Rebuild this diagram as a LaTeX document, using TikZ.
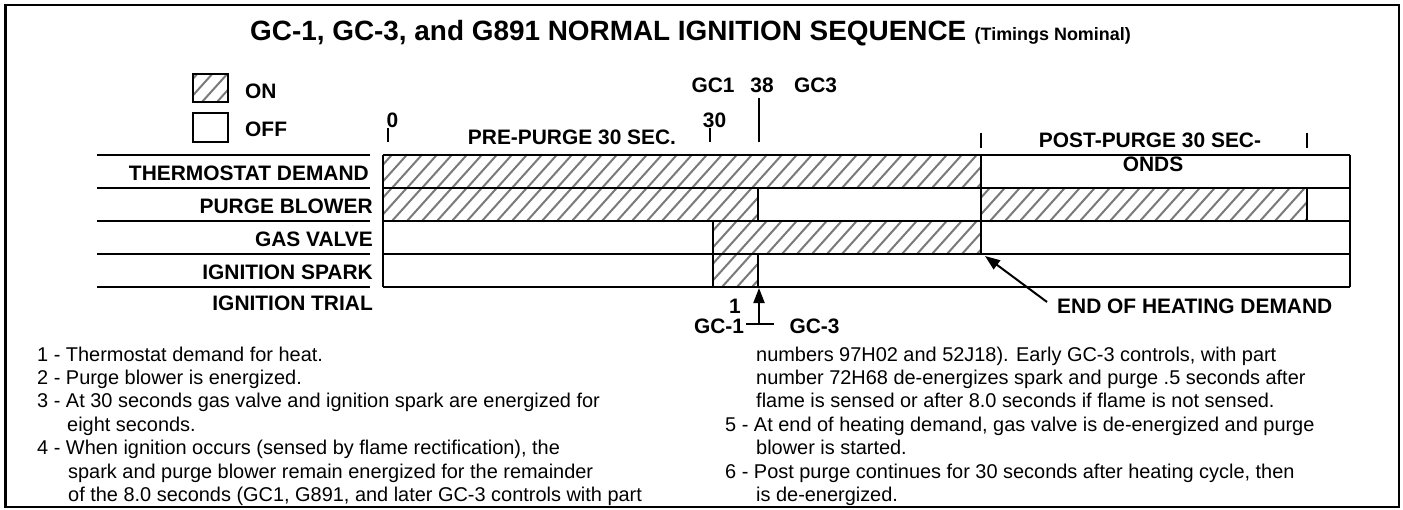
\documentclass[tikz,border=0pt]{standalone}
\usepackage{fontspec}
\setmainfont{Liberation Sans}
\usetikzlibrary{arrows.meta}
\newcommand\hatchrect[4]{%
  \begin{scope}
    \clip (#1,#2) rectangle (#3,#4);
    \pgfmathtruncatemacro\hn{(#3-#1)/15+4}%
    \foreach \k in {0,...,\hn}{\draw[hatchline] ({#1-36+15*\k},{#4}) -- ++(36,-40);}
  \end{scope}}
\begin{document}
\begin{tikzpicture}[x=1bp,y=-1bp,
  lbl/.style={font=\fontsize{21}{25}\selectfont\bfseries, inner sep=0pt},
  rowlbl/.style={lbl, anchor=base east},
  note/.style={font=\fontsize{20}{23.4}\selectfont, inner sep=0pt, anchor=base west},
  hatchline/.style={draw=black!52, line width=2bp},
  gridline/.style={line width=1.4bp},
  tickline/.style={line width=1.1bp},
  arrowline/.style={line width=2bp, -{Triangle[length=15bp,width=11bp]}}]
\useasboundingbox (0,0) rectangle (1403,510);
% frame
\draw[line width=1.3bp] (5,5) rectangle (1399,507);
\draw[line width=3bp] (5,5) -- (5,507);
% title
\node[anchor=base west, inner sep=0pt, font=\fontsize{28}{32}\selectfont\bfseries] (title) at (250,41) {GC-1, GC-3, and G891 NORMAL IGNITION SEQUENCE};
\node[anchor=base west, inner sep=0pt, font=\fontsize{18}{22}\selectfont\bfseries] (titlenote) at ([xshift=8bp]title.base east) {(Timings Nominal)};
% legend
\hatchrect{193}{74}{228}{102}
\draw[gridline] (193,74) rectangle (228,102);
\draw[gridline] (193,113) rectangle (228,142);
\node[lbl, anchor=base west] (on) at (245,98.5) {ON};
\node[lbl, anchor=base west] (off) at (245,136.5) {OFF};
% row labels
\foreach \yy in {155,188,221,254,287} {\draw[line width=1.3bp] (97,\yy) -- (370,\yy);}
\node[rowlbl] (lthermo) at (369,181) {THERMOSTAT DEMAND};
\node[rowlbl] (lpurge) at (373,214) {PURGE BLOWER};
\node[rowlbl] (lgas) at (373,247) {GAS VALVE};
\node[rowlbl] (lspark) at (373,280) {IGNITION SPARK};
\node[rowlbl] (ltrial) at (373,310) {IGNITION TRIAL};
% hatched (ON) bars
\hatchrect{383}{155}{981}{188}
\hatchrect{383}{188}{758}{221}
\hatchrect{981}{188}{1307}{221}
\hatchrect{713}{221}{981}{254}
\hatchrect{713}{254}{758}{287}
% chart grid
\foreach \yy in {155,188,221,254,287} {\draw[gridline] (383,\yy) -- (1350,\yy);}
\draw[gridline] (383,155) -- (383,287);
\draw[gridline] (1350,155) -- (1350,287);
\draw[gridline] (981,155) -- (981,188);
\draw[gridline] (758,188) -- (758,221);
\draw[gridline] (981,188) -- (981,221);
\draw[gridline] (1307,188) -- (1307,221);
\draw[gridline] (713,221) -- (713,287);
\draw[gridline] (981,221) -- (981,254);
\draw[gridline] (758,254) -- (758,287);
% time marks
\draw[tickline] (388,128) -- (388,142);
\node[lbl, anchor=base] (t0) at (392.5,128) {0};
\draw[tickline] (710,128) -- (710,142);
\node[lbl, anchor=base] (t30) at (714.5,128) {30};
\draw[tickline] (759,98) -- (759,142);
\node[lbl, anchor=base] (t38) at (762,93) {38};
\node[lbl, anchor=base] (tgc1) at (713,93) {GC1};
\node[lbl, anchor=base] (tgc3) at (815.5,93) {GC3};
\node[lbl, anchor=base] (prepurge) at (572,145) {PRE-PURGE 30 SEC.};
\draw[tickline] (981,133) -- (981,148);
\draw[tickline] (1307,133) -- (1307,148);
\node[lbl, anchor=base] (postpurge) at (1150,148) {POST-PURGE 30 SEC-};
\node[lbl, anchor=base] (postonds) at (1153,172) {ONDS};
% end of heating demand
\coordinate (endtip) at (985,256);
\coordinate (endtail) at (1047,302);
\draw[arrowline] (endtail) -- (endtip);
\node[lbl, anchor=base west] (endlbl) at (1057,313) {END OF HEATING DEMAND};
% ignition trial arrow
\coordinate (trialtip) at (759,288);
\coordinate (trialfoot) at (759,324);
\coordinate (barl) at (746,324);
\coordinate (barr) at (774,324);
\draw[arrowline] (trialfoot) -- (trialtip);
\draw[line width=1.6bp] (barl) -- (barr);
\node[lbl, anchor=base] (one) at (735,313) {1};
\node[lbl, anchor=base] (gcone) at (719,333) {GC-1};
\node[lbl, anchor=base] (gcthree) at (814.5,333) {GC-3};
% notes, left column
\node[note] (n1) at (37,361) {1 - Thermostat demand for heat.};
\node[note] (n2) at (37,384.4) {2 - Purge blower is energized.};
\node[note] (n3) at (37,407.8) {3 - At 30 seconds gas valve and ignition spark are energized for};
\node[note] (n3b) at (67,431.2) {eight seconds.};
\node[note] (n4) at (37,454.6) {4 - When ignition occurs (sensed by flame rectification), the};
\node[note] (n4b) at (68,478) {spark and purge blower remain energized for the remainder};
\node[note] (n4c) at (68,501.4) {of the 8.0 seconds (GC1, G891, and later GC-3 controls with part};
% notes, right column
\node[note] (n4d) at (756,361) {numbers 97H02 and 52J18). Early GC-3 controls, with part};
\node[note] (n4e) at (756,384.4) {number 72H68 de-energizes spark and purge .5 seconds after};
\node[note] (n4f) at (756,407.8) {flame is sensed or after 8.0 seconds if flame is not sensed.};
\node[note] (n5) at (725,431.2) {5 - At end of heating demand, gas valve is de-energized and purge};
\node[note] (n5b) at (756,454.6) {blower is started.};
\node[note] (n6) at (725,478) {6 - Post purge continues for 30 seconds after heating cycle, then};
\node[note] (n6b) at (756,501.4) {is de-energized.};
\end{tikzpicture}
\end{document}
